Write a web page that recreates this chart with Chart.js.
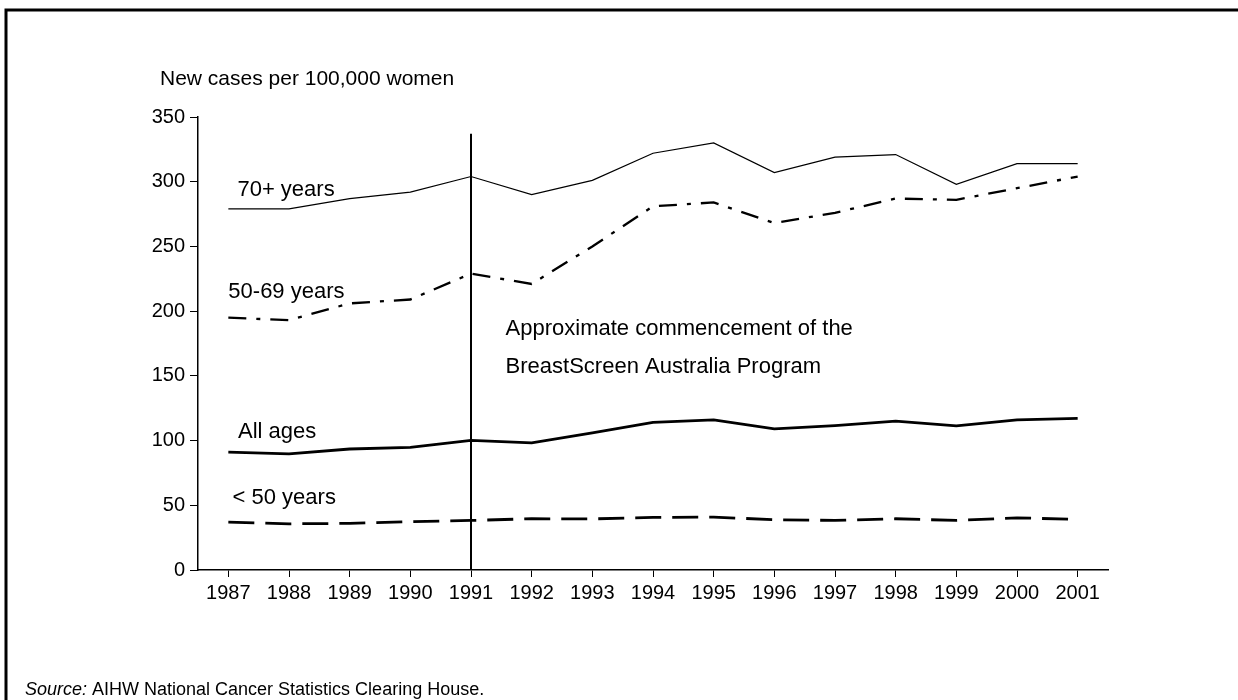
<!DOCTYPE html>
<html>
<head>
<meta charset="utf-8">
<script src="https://cdn.jsdelivr.net/npm/chart.js@4/dist/chart.umd.min.js"></script>
<style>
  html, body { margin: 0; padding: 0; background: #fff; }
  #wrap { width: 1238px; height: 700px; position: relative; }
</style>
</head>
<body>
<div id="wrap"><canvas id="incidence"></canvas></div>
<script>
// Breast cancer incidence by age group, 1987-2001
const years = ['1987', '1988', '1989', '1990', '1991', '1992', '1993', '1994',
               '1995', '1996', '1997', '1998', '1999', '2000', '2001'];
const age70plus = [279, 279, 287, 292, 304, 290, 301, 322, 330, 307, 319, 321, 298, 314, 314];
const age50to69 = [195, 193, 206, 209, 229, 221, 250, 281, 284, 268, 276, 287, 286, 295, 304];
const allAges   = [91, 89.7, 93.5, 94.8, 100.2, 98.2, 106, 114, 116, 109, 111.5, 115, 111.3, 116, 117.2];
const under50   = [37, 35.7, 36, 37.3, 38.3, 39.6, 39.5, 40.6, 40.9, 38.8, 38.3, 39.6, 38.3, 40.3, 39.1];
const yTicks = [0, 50, 100, 150, 200, 250, 300, 350];

const FONT = '"Liberation Sans", Arial, sans-serif';

// frame, notes, and the 1991 marker line
const extras = {
    id: 'extras',
    afterDraw(chart) {
        const ctx = chart.ctx;
        const xs = chart.scales.x;
        const ys = chart.scales.y;
        const area = chart.chartArea;
        const xAt = i => xs.getPixelForValue(0) + i * (xs.getPixelForValue(1) - xs.getPixelForValue(0));

        ctx.save();
        // outer frame (top + left only)
        ctx.strokeStyle = '#000';
        ctx.lineWidth = 3;
        ctx.beginPath();
        ctx.moveTo(6, 700);
        ctx.lineTo(6, 10);
        ctx.lineTo(1238, 10);
        ctx.stroke();

        // program start marker
        ctx.lineWidth = 2;
        ctx.beginPath();
        ctx.moveTo(xAt(4), ys.getPixelForValue(0));
        ctx.lineTo(xAt(4), ys.getPixelForValue(337));
        ctx.stroke();

        ctx.fillStyle = '#000';
        ctx.textBaseline = 'middle';
        ctx.textAlign = 'left';
        ctx.font = '21px ' + FONT;
        ctx.fillText('New cases per 100,000 women', area.left - 38, area.top - 38);
        ctx.font = '22px ' + FONT;
        ctx.fillText('70+ years', xAt(0.15), ys.getPixelForValue(294));
        ctx.fillText('50-69 years', xAt(0), ys.getPixelForValue(215));
        ctx.fillText('Approximate commencement of the', xAt(4.57), ys.getPixelForValue(186));
        ctx.fillText('BreastScreen Australia Program', xAt(4.57), ys.getPixelForValue(157));
        ctx.fillText('All ages', xAt(0.16), ys.getPixelForValue(106.6));
        ctx.fillText('< 50 years', xAt(0.07), ys.getPixelForValue(55.5));

        // source line
        ctx.font = 'italic 18px ' + FONT;
        ctx.fillText('Source:', 25, 690);
        const w = ctx.measureText('Source: ').width;
        ctx.font = '18px ' + FONT;
        ctx.fillText('AIHW National Cancer Statistics Clearing House.', 25 + w, 690);
        ctx.restore();
    }
};

const ctx = document.getElementById('incidence').getContext('2d');
new Chart(ctx, {
    type: 'line',
    data: {
        labels: years,
        datasets: [{
            label: '70+ years',
            data: age70plus,
            borderColor: '#000',
            borderWidth: 1.2,
            pointRadius: 0,
            tension: 0
        }, {
            label: '50-69 years',
            data: age50to69,
            borderColor: '#000',
            borderWidth: 2.3,
            borderDash: [18, 10, 4, 10],
            pointRadius: 0,
            tension: 0
        }, {
            label: 'All ages',
            data: allAges,
            borderColor: '#000',
            borderWidth: 2.8,
            pointRadius: 0,
            tension: 0
        }, {
            label: '< 50 years',
            data: under50,
            borderColor: '#000',
            borderWidth: 2.8,
            borderDash: [26, 11],
            pointRadius: 0,
            tension: 0
        }]
    },
    options: {
        responsive: true,
        maintainAspectRatio: false,
        animation: false,
        layout: {
            padding: { left: 138, right: 130, top: 117, bottom: 90 }
        },
        plugins: {
            legend: { display: false },
            tooltip: { enabled: false }
        },
        scales: {
            x: {
                offset: true,
                grid: { drawOnChartArea: false, drawTicks: true, tickLength: 7, color: '#000', lineWidth: 1 },
                border: { display: true, color: '#000', width: 1.5 },
                ticks: {
                    color: '#000',
                    font: { family: FONT, size: 20 },
                    padding: 4,
                    maxRotation: 0,
                    autoSkip: false
                },
                afterFit(scale) { scale.height = 40; }
            },
            y: {
                min: 0,
                max: 350,
                afterBuildTicks(scale) { scale.ticks = yTicks.map(v => ({ value: v })); },
                grid: { drawOnChartArea: false, drawTicks: true, tickLength: 8, color: '#000', lineWidth: 1 },
                border: { display: true, color: '#000', width: 1.5 },
                ticks: {
                    color: '#000',
                    font: { family: FONT, size: 20 },
                    padding: 5
                },
                afterFit(scale) { scale.width = 60; }
            }
        }
    },
    plugins: [extras]
});
</script>
</body>
</html>
